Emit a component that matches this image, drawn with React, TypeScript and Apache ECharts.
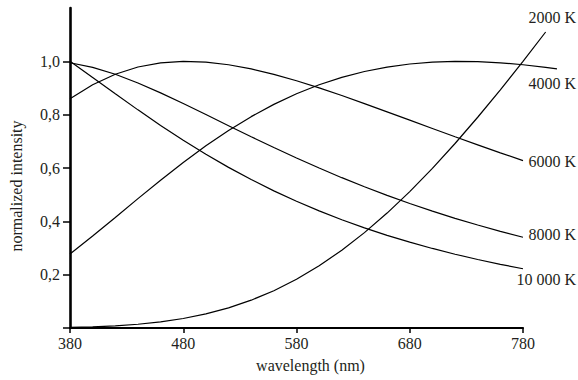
import React, { useEffect, useRef } from "react";
import * as echarts from "echarts";

const wavelengths = [380, 400, 420, 440, 460, 480, 500, 520, 540, 560, 580, 600, 620, 640, 660, 680, 700, 720, 740, 760, 780];
const xTicks = [380, 480, 580, 680, 780];
const yTickValues = [0.2, 0.4, 0.6, 0.8, 1.0];

const k2000 = [0.0022, 0.0044, 0.0081, 0.0141, 0.0229, 0.0356, 0.0528, 0.0755, 0.1043, 0.1399, 0.1829, 0.2334, 0.2916, 0.3576, 0.431, 0.5115, 0.5987, 0.6919, 0.7903, 0.8933, 1.0];
const k2000ExtWl = [800];
const k2000Ext = [1.11];

const k4000 = [0.2777, 0.3449, 0.4147, 0.4851, 0.5543, 0.6207, 0.6831, 0.7406, 0.7926, 0.8385, 0.8784, 0.9121, 0.9399, 0.9619, 0.9786, 0.9901, 0.997, 0.9999, 0.9989, 0.9945, 0.9872];
const k4000ExtWl = [800, 810];
const k4000Ext = [0.9773, 0.9716];

const k6000 = [0.8593, 0.9122, 0.9517, 0.9787, 0.9942, 1.0, 0.9971, 0.9872, 0.9717, 0.9512, 0.9272, 0.9004, 0.8717, 0.8416, 0.8107, 0.7794, 0.7481, 0.7171, 0.6867, 0.6568, 0.6278];

const k8000 = [0.9948, 0.9775, 0.9514, 0.9188, 0.8816, 0.8419, 0.8005, 0.7587, 0.7173, 0.6768, 0.6375, 0.5998, 0.5637, 0.5296, 0.4972, 0.4668, 0.4381, 0.4112, 0.3861, 0.3625, 0.3404];

const k10000 = [1.0, 0.9396, 0.8784, 0.818, 0.7596, 0.704, 0.6515, 0.6023, 0.5567, 0.5142, 0.4751, 0.4391, 0.4059, 0.3754, 0.3475, 0.3218, 0.2983, 0.2767, 0.2569, 0.2388, 0.2221];

const seriesNames = ["2000 K", "4000 K", "6000 K", "8000 K", "10 000 K"];

const FONT = "Liberation Serif";
const TEXT = "#231f20";

function pairs(xs: number[], ys: number[]) {
  return xs.map((x, i) => [x, ys[i]]);
}

export default function App() {
  const ref = useRef<HTMLDivElement>(null);
  useEffect(() => {
    if (!ref.current) return;
    const chart = echarts.init(ref.current, undefined, { renderer: "svg" });
    const lineStyle = { color: "#000", width: 1.2 };
    const mk = (name: string, data: number[][]) => ({
      name,
      type: "line",
      xAxisIndex: 1,
      yAxisIndex: 1,
      data,
      symbol: "none",
      smooth: false,
      clip: false,
      lineStyle,
      silent: true,
    });
    const labelY = [18, 84, 162, 235, 280];
    // plot grid extends to 820 nm at the same scale (453px per 400nm)
    const plotRight = 578 - 70 - ((820 - 380) * 453) / 400;
    chart.setOption({
      animation: false,
      backgroundColor: "#fff",
      textStyle: { fontFamily: FONT },
      grid: [
        { left: 70, right: 55, top: 8, bottom: 52 },
        { left: 70, right: plotRight, top: 8, bottom: 52 },
      ],
      xAxis: [
        {
          type: "value",
          gridIndex: 0,
          min: 380,
          max: 780,
          interval: 100,
          name: "wavelength (nm)",
          nameLocation: "middle",
          nameGap: 29,
          nameTextStyle: { fontFamily: FONT, fontSize: 16, color: TEXT, padding: [0, 0, 0, 28] },
          axisLine: { show: true, onZero: false, lineStyle: { color: "#000", width: 2.2 } },
          axisTick: { show: true, length: 5, inside: false, lineStyle: { color: "#000", width: 1.5 }, customValues: xTicks },
          axisLabel: { fontFamily: FONT, fontSize: 16, color: TEXT, margin: 7, customValues: xTicks },
          splitLine: { show: false },
        },
        {
          type: "value",
          gridIndex: 1,
          min: 380,
          max: 820,
          show: false,
        },
      ],
      yAxis: [
        {
          type: "value",
          gridIndex: 0,
          min: 0,
          max: 1.2,
          interval: 0.2,
          axisLine: { show: true, onZero: false, lineStyle: { color: "#000", width: 2.6 } },
          axisTick: { show: true, length: 7, lineStyle: { color: "#000", width: 1.5 }, customValues: [0, 0.2, 0.4, 0.6, 0.8, 1.0] },
          axisLabel: {
            fontFamily: FONT,
            fontSize: 16,
            color: TEXT,
            margin: 10,
            customValues: yTickValues,
            formatter: (v: number) => v.toFixed(1).replace(".", ","),
          },
          splitLine: { show: false },
        },
        {
          type: "value",
          gridIndex: 1,
          min: 0,
          max: 1.2,
          show: false,
        },
      ],
      series: [
        mk(seriesNames[0], pairs(wavelengths.concat(k2000ExtWl), k2000.concat(k2000Ext))),
        mk(seriesNames[1], pairs(wavelengths.concat(k4000ExtWl), k4000.concat(k4000Ext))),
        mk(seriesNames[2], pairs(wavelengths, k6000)),
        mk(seriesNames[3], pairs(wavelengths, k8000)),
        mk(seriesNames[4], pairs(wavelengths, k10000)),
      ],
      graphic: [
        ...seriesNames.map((n, i) => ({
          type: "text",
          right: 2,
          top: labelY[i] - 9,
          style: { text: n, font: `16px ${FONT}`, fill: TEXT },
        })),
        {
          type: "text",
          x: 16,
          y: 186,
          rotation: Math.PI / 2,
          style: {
            text: "normalized intensity",
            font: `16px ${FONT}`,
            fill: TEXT,
            align: "center",
            verticalAlign: "middle",
          },
        },
      ],
    });
    return () => chart.dispose();
  }, []);
  return <div ref={ref} style={{ width: 578, height: 380, position: "absolute", left: 0, top: 0 }} />;
}
